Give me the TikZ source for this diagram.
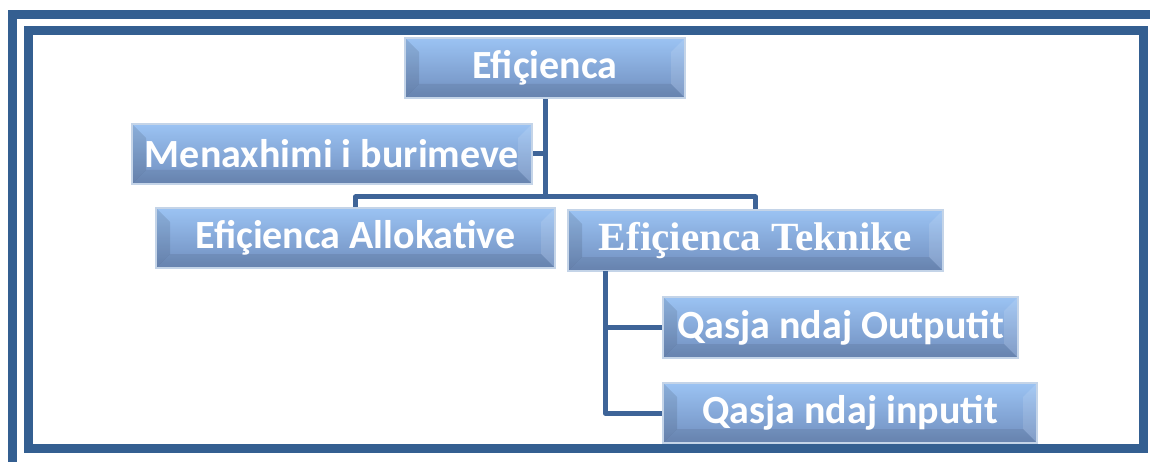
\documentclass[tikz,border=0pt]{standalone}
\usepackage{fontspec}
\setmainfont{Carlito}
\newfontfamily\serifb[FakeStretch=1.03]{Liberation Serif}
\usetikzlibrary{calc}
\definecolor{frame}{RGB}{52,95,145}
\definecolor{conn}{RGB}{62,100,152}
\definecolor{boxtop}{RGB}{155,195,243}
\definecolor{boxbot}{RGB}{112,142,190}
\definecolor{boxedge}{RGB}{196,212,232}
\tikzset{
  framest/.style={draw=frame, line width=9},
  connst/.style={draw=conn, line width=5, line join=round},
  boxst/.style={draw=boxedge, line width=2, top color=boxtop, bottom color=boxbot,
    text=white, font=\bfseries\fontsize{40}{44}\selectfont, inner sep=0,
    minimum height=60,
    path picture={
      \fill[black,opacity=0.10] (path picture bounding box.north west)
        -- ([xshift=14pt,yshift=-14pt]path picture bounding box.north west)
        -- ([xshift=14pt,yshift=14pt]path picture bounding box.south west)
        -- (path picture bounding box.south west) -- cycle;
      \fill[white,opacity=0.12] (path picture bounding box.north east)
        -- ([xshift=-14pt,yshift=-14pt]path picture bounding box.north east)
        -- ([xshift=-14pt,yshift=14pt]path picture bounding box.south east)
        -- (path picture bounding box.south east) -- cycle;
      \fill[black,opacity=0.08] (path picture bounding box.south west)
        -- ([xshift=14pt,yshift=14pt]path picture bounding box.south west)
        -- ([xshift=-14pt,yshift=14pt]path picture bounding box.south east)
        -- (path picture bounding box.south east) -- cycle;
    }}
}
\begin{document}
\begin{tikzpicture}[x=1pt,y=-1pt]
\useasboundingbox (0,0) rectangle (1150,462);
\clip (0,0) rectangle (1150,462);
\fill[white] (0,0) rectangle (1150,462);
\draw[framest] (12.5,14.5) rectangle (1165,467);
\draw[framest] (28.5,30.5) rectangle (1143.5,448.5);

\node[boxst, minimum width=280] (ef) at (545,68) {Efiçienca};
\node[boxst, minimum width=400] (me) at (332,154) {Menaxhimi i burimeve};
\node[boxst, minimum width=399] (al) at (355.5,238) {Efiçienca Allokative};
\node[boxst, minimum width=375, minimum height=61, font=\serifb\bfseries\fontsize{40}{44}\selectfont] (te) at (755.5,240.5) {Efiçienca Teknike};
\node[boxst, minimum width=355, minimum height=61] (ou) at (840.5,327.5) {Qasja ndaj Outputit};
\node[boxst, minimum width=374] (in) at (850,413) {Qasja ndaj inputit};

\coordinate (j) at (545,197);
\coordinate (k) at (605,271);
\draw[connst] (ef.south) -- (j);
\draw[connst] (al.north) |- (j) -| (te.north);
\draw[connst] (me.east) -- (me.east -| j);
\draw[connst] (k) |- (ou.west);
\draw[connst] (k) |- (in.west);
\end{tikzpicture}
\end{document}
